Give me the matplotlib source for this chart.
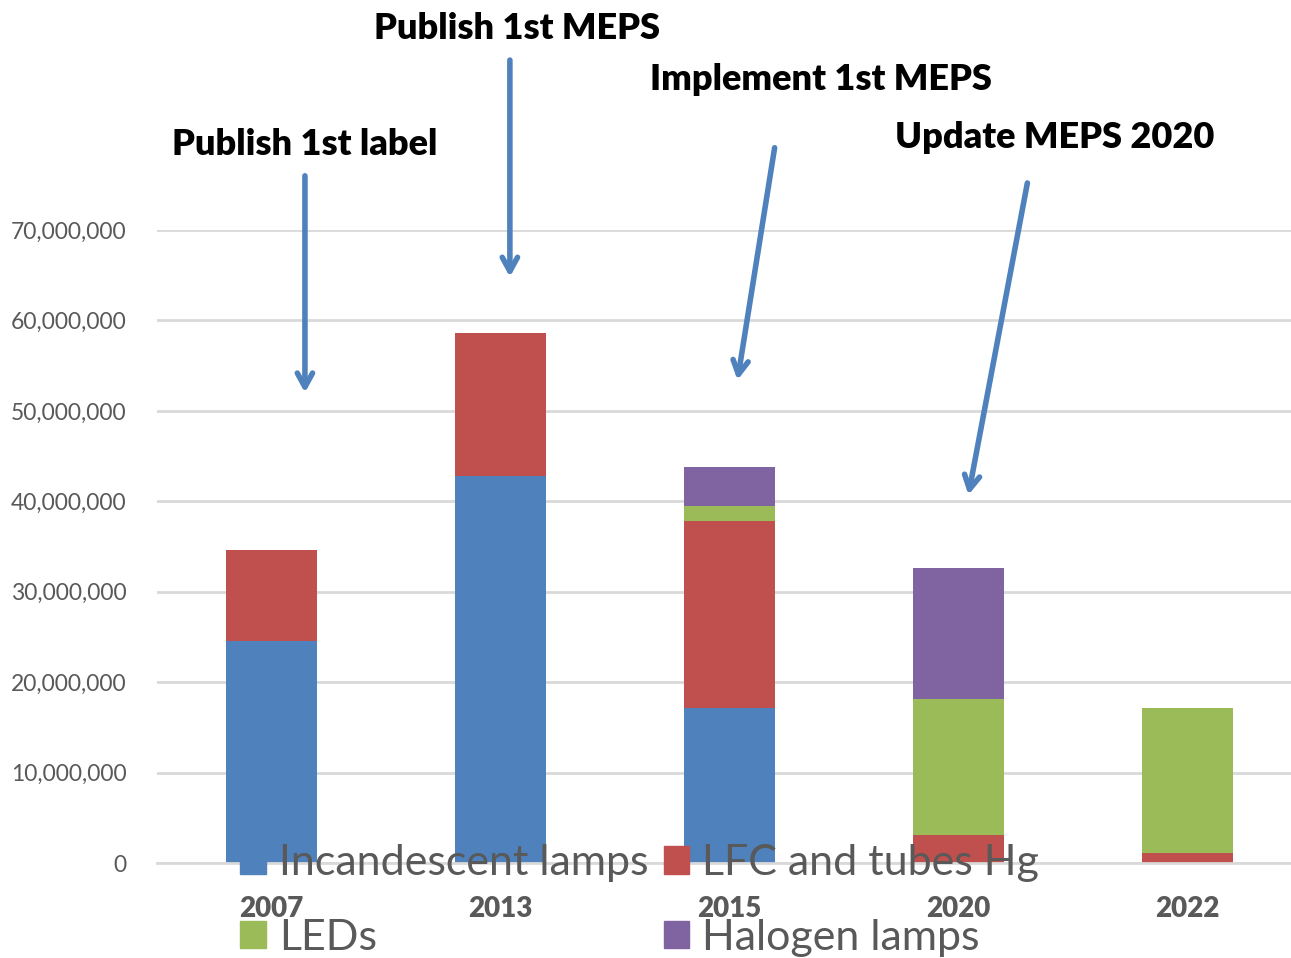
import numpy as np
import matplotlib.pyplot as plt
from matplotlib.patches import Patch

## Stacked bars of lamp sales by technology, with policy milestones marked by arrows

years = ["2007", "2013", "2015", "2020", "2022"]
incandescent = [24.6e6, 42.8e6, 17.1e6, 0, 0]
lfc_tubes = [10.0e6, 15.8e6, 20.7e6, 3.1e6, 1.1e6]
leds = [0, 0, 1.7e6, 15.0e6, 16.0e6]
halogen = [0, 0, 4.3e6, 14.5e6, 0]

series_names = ["Incandescent lamps", "LFC and tubes Hg", "LEDs", "Halogen lamps"]
colors = ["#4f81bd", "#c0504d", "#9bbb59", "#8064a2"]

milestones = ["Publish 1st label", "Publish 1st MEPS", "Implement 1st MEPS", "Update MEPS 2020"]

plt.rcParams['font.family'] = ['Lato', 'DejaVu Sans']

fig = plt.figure(figsize=(12.91, 9.58), dpi=100)
W, H = 1291, 958
ax = fig.add_axes([157 / W, 95 / H, 1145 / W, 633 / H])

x = np.arange(len(years))
bottom = np.zeros(len(years))
for vals, c in zip([incandescent, lfc_tubes, leds, halogen], colors):
    ax.bar(x, vals, width=0.4, bottom=bottom, color=c, zorder=2)
    bottom += np.array(vals)

ax.set_xlim(-0.5, len(years) - 0.5)
ax.set_ylim(0, 70e6)
ax.set_yticks(np.arange(0, 70e6 + 1, 10e6))
ax.yaxis.set_major_formatter(plt.FuncFormatter(lambda v, p: f"{v:,.0f}"))
ax.grid(axis="y", color="#d9d9d9", linewidth=2, zorder=0)
ax.set_axisbelow(True)
for s in ["top", "right", "left"]:
    ax.spines[s].set_visible(False)
ax.spines["bottom"].set_color("#d9d9d9")
ax.spines["bottom"].set_linewidth(2)
ax.tick_params(axis="both", length=0, colors="#595959")
ax.tick_params(axis="y", labelsize=16.5, pad=22)
ax.tick_params(axis="x", pad=24, labelsize=20)
ax.set_xticks(x)
ax.set_xticklabels(years)
for lbl in ax.get_xticklabels():
    lbl.set_fontweight("heavy")

# milestone arrows (tail -> tip) and labels, in data units (millions)
tails = [(0.146, 76.3), (1.041, 89.1), (2.199, 79.4), (3.303, 75.5)]
tips = [(0.146, 51.7), (1.041, 64.5), (2.033, 53.1), (3.041, 40.4)]
text_pos = [(0.146, 79.5), (1.072, 92.3), (2.40, 86.6), (3.42, 80.2)]
for name, t0, t1, tp in zip(milestones, tails, tips, text_pos):
    ax.annotate("", xy=(t1[0], t1[1] * 1e6), xytext=(t0[0], t0[1] * 1e6),
                arrowprops=dict(arrowstyle="->,head_length=1.0,head_width=0.55",
                                color="#4f81bd", lw=4),
                annotation_clip=False)
    ax.text(tp[0], tp[1] * 1e6, name, ha="center", va="center", fontsize=26,
            fontweight="heavy", color="black", clip_on=False)

# legend filled row by row like the original
order = [0, 2, 1, 3]
handles = [Patch(color=colors[i]) for i in order]
labels = [series_names[i] for i in order]
fig.legend(handles, labels, ncol=2, loc="upper left",
           bbox_to_anchor=(236 / W, 1 - 840 / H), frameon=False, fontsize=31,
           labelcolor="#595959", handlelength=0.6, handleheight=0.6,
           handletextpad=0.3, columnspacing=0.35, labelspacing=0.85,
           borderpad=0.1, borderaxespad=0)

fig.savefig("out.png", dpi=100)
